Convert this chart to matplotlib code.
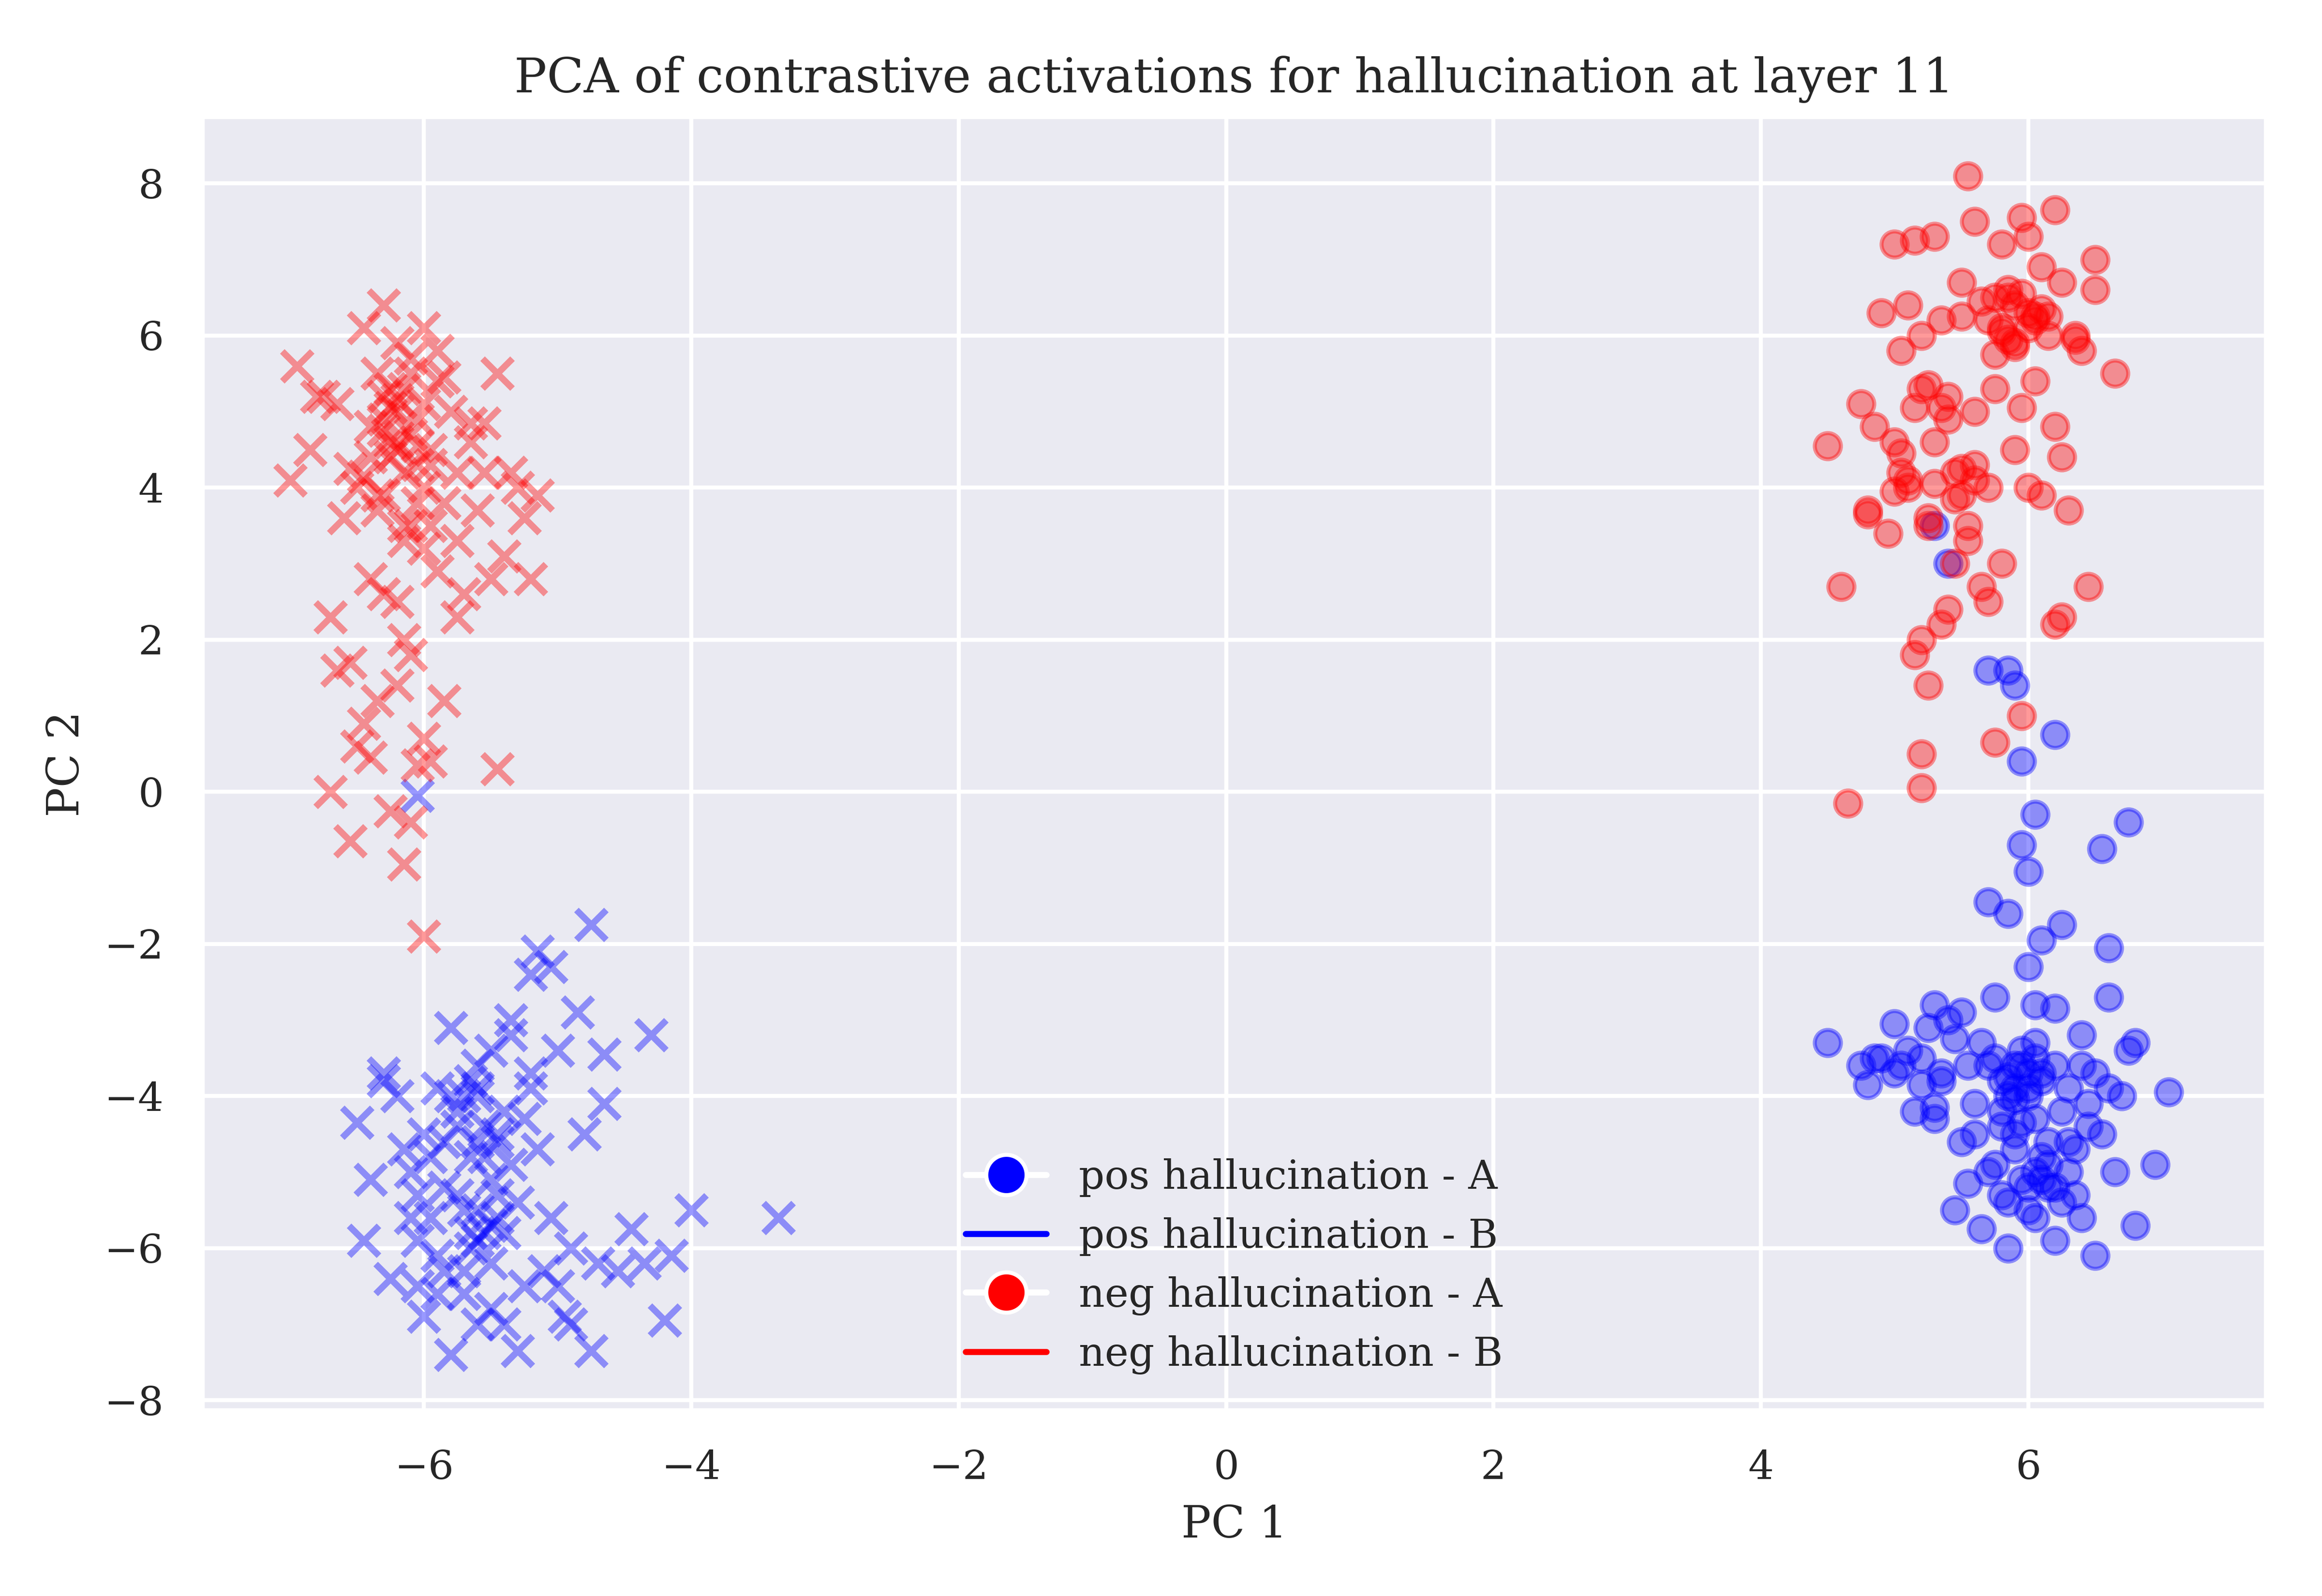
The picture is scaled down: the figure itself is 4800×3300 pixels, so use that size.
import matplotlib
matplotlib.use("Agg")
import matplotlib.pyplot as plt
import seaborn as sns
from matplotlib.lines import Line2D

# pos hallucination - A (blue circles)
pos_a_x = [4.5, 4.75, 4.8, 4.9, 5.0, 5.05, 5.1, 5.15, 5.2, 5.25, 5.3, 5.3, 5.35, 5.4, 5.45, 5.5, 5.5,
           5.55, 5.6, 5.65, 5.7, 5.7, 5.75, 5.8, 5.8, 5.85, 5.85, 5.9, 5.9, 5.95, 6.0, 6.0, 6.05, 6.05,
           6.1, 6.1, 6.15, 6.2, 6.2, 6.25, 6.3, 6.3, 6.35, 6.4, 6.4, 6.45, 6.5, 6.5, 6.55, 6.6, 6.65,
           6.7, 6.75, 6.8, 6.8, 6.95, 7.05, 5.35, 5.6, 5.9, 6.1, 6.25, 5.75, 6.35, 6.0, 5.65, 5.95,
           6.15, 6.45, 5.45, 5.8, 6.05, 6.3, 5.55, 6.4, 5.2, 4.85, 5.0, 5.3, 6.2, 6.6, 5.7, 6.0,
           5.85, 5.9, 5.95, 6.0, 6.05, 5.8, 5.9, 6.0, 6.1, 5.75, 5.85, 6.15, 6.05, 5.95, 6.2,
           5.4, 5.3, 5.7, 5.85, 5.9, 6.2, 5.95, 6.05, 6.75, 5.95, 6.55, 6.0, 5.85, 6.1, 6.05, 6.6, 6.25]
pos_a_y = [-3.3, -3.6, -3.85, -3.5, -3.05, -3.6, -3.4, -4.2, -3.5, -3.1, -2.8, -4.3, -3.7, -3.0, -5.5,
           -4.6, -2.9, -3.6, -4.1, -3.3, -5.0, -3.6, -2.7, -3.8, -5.3, -4.0, -6.0, -3.6, -4.7, -5.1,
           -3.7, -5.5, -4.3, -3.3, -3.8, -5.1, -4.6, -3.6, -5.9, -4.2, -3.9, -5.0, -4.7, -3.6, -5.6,
           -4.4, -3.7, -6.1, -4.5, -3.9, -5.0, -4.0, -3.4, -5.7, -3.3, -4.9, -3.95, -3.8, -4.5,
           -4.05, -4.8, -5.4, -4.9, -5.3, -3.9, -5.75, -4.35, -5.2, -4.1, -3.25, -4.4, -3.5,
           -4.6, -5.15, -3.2, -3.85, -3.5, -3.7, -4.15, -2.85, -2.7, -1.45, -2.3,
           -3.75, -3.9, -3.6, -5.2, -5.0, -4.2, -4.5, -4.0, -3.7, -3.5, -5.4, -4.9, -5.6, -3.4, -5.2,
           3.0, 3.5, 1.6, 1.6, 1.4, 0.75, 0.4, -0.3, -0.4, -0.7, -0.75, -1.05, -1.6, -1.95, -2.8, -2.05, -1.75]

# neg hallucination - A (red circles)
neg_a_x = [4.5, 4.6, 4.75, 4.8, 4.85, 4.9, 4.95, 5.0, 5.0, 5.05, 5.1, 5.1, 5.15, 5.2, 5.2, 5.25, 5.3,
           5.3, 5.35, 5.4, 5.4, 5.45, 5.5, 5.5, 5.55, 5.6, 5.6, 5.65, 5.7, 5.7, 5.75, 5.8, 5.8, 5.85,
           5.9, 5.9, 5.95, 6.0, 6.0, 6.05, 6.1, 6.1, 6.15, 6.2, 6.2, 6.25, 6.3, 6.35, 6.4, 6.45, 6.5,
           6.65, 5.55, 5.15, 5.25, 5.35, 5.45, 5.65, 5.75, 5.95, 6.05, 6.25, 5.05, 5.3, 5.6, 5.9,
           6.15, 6.35, 5.5, 5.85, 6.0, 5.2, 5.4, 5.6, 5.8, 5.0, 5.1, 6.2, 6.25, 6.5, 5.25, 5.45,
           5.7, 5.55, 5.8, 5.85, 5.9, 6.0, 6.05, 6.1, 5.75, 5.95, 4.8, 5.05, 5.25, 5.5,
           4.65, 5.2, 5.2, 5.75, 5.95, 5.35, 5.15]
neg_a_y = [4.55, 2.7, 5.1, 3.7, 4.8, 6.3, 3.4, 4.6, 7.2, 5.8, 4.0, 6.4, 7.25, 2.0, 5.3, 1.4, 4.6, 7.3,
           6.2, 2.4, 5.2, 3.85, 6.7, 4.25, 3.5, 5.0, 7.5, 2.7, 4.0, 6.2, 5.3, 7.2, 3.0, 6.6, 4.5, 5.9,
           7.55, 4.0, 6.3, 5.4, 6.9, 3.9, 6.0, 4.8, 7.65, 6.7, 3.7, 6.0, 5.8, 2.7, 7.0, 5.5, 8.1,
           5.05, 3.6, 5.05, 4.2, 6.45, 5.75, 5.05, 6.2, 4.4, 4.2, 4.05, 4.1, 5.85, 6.25, 5.95, 6.25,
           6.5, 7.3, 6.0, 4.9, 4.3, 6.1, 3.95, 4.1, 2.2, 2.3, 6.6, 3.5, 3.0, 2.5, 3.3,
           6.05, 5.95, 6.4, 6.1, 6.25, 6.35, 6.5, 6.55, 3.65, 4.45, 5.35, 3.9,
           -0.15, 0.05, 0.5, 0.65, 1.0, 2.2, 1.8]

# pos hallucination - B (blue crosses)
pos_b_x = [-6.5, -6.45, -6.3, -6.25, -6.2, -6.1, -6.05, -6.0, -6.0, -5.95, -5.9, -5.9, -5.85, -5.8,
           -5.8, -5.75, -5.7, -5.7, -5.65, -5.6, -5.6, -5.55, -5.5, -5.5, -5.45, -5.4, -5.4, -5.35,
           -5.3, -5.25, -5.2, -5.15, -5.1, -5.05, -5.0, -4.95, -4.9, -4.8, -4.75, -4.7, -4.65, -4.55,
           -4.45, -4.3, -4.2, -4.15, -4.0, -3.35, -5.15, -5.2, -4.75, -4.65, -4.35, -5.75, -5.6,
           -5.45, -5.65, -5.55, -5.85, -5.95, -6.1, -5.35, -5.5, -5.25, -5.7, -5.6, -6.3, -6.4,
           -6.05, -5.8, -5.45, -5.3, -5.05, -4.85, -5.6, -5.55, -5.65, -5.5, -5.7, -5.6, -5.45,
           -5.75, -5.4, -5.85, -5.6, -5.5, -5.65, -5.35, -6.05, -5.9, -5.2, -5.0, -4.9, -6.15,
           -6.05]
pos_b_y = [-4.35, -5.9, -3.8, -6.4, -4.0, -5.0, -6.5, -4.5, -6.9, -5.6, -3.9, -6.1, -4.6, -3.1,
           -7.4, -5.3, -4.0, -6.6, -5.8, -3.6, -7.0, -4.8, -3.4, -6.2, -5.6, -4.2, -7.0, -3.2,
           -5.4, -6.5, -3.9, -4.7, -6.3, -5.6, -3.4, -6.9, -7.0, -4.5, -7.35, -6.2, -3.45, -6.3,
           -5.75, -3.2, -6.95, -6.1, -5.5, -5.6, -2.1, -2.4, -1.75, -4.1, -6.2, -4.4, -5.5,
           -4.6, -3.8, -5.8, -5.2, -4.8, -5.6, -3.0, -6.8, -4.3, -6.3, -4.0, -3.7, -5.1,
           -5.9, -4.0, -5.3, -7.35, -2.3, -2.9, -4.6, -4.4, -4.8, -5.7, -5.5, -5.9, -4.5,
           -4.2, -5.8, -6.3, -3.9, -5.1, -6.0, -4.9, -5.3, -6.6, -3.7, -6.5, -6.0, -4.7,
           -0.05]

# neg hallucination - B (red crosses)
neg_b_x = [-7.0, -6.95, -6.85, -6.8, -6.7, -6.65, -6.6, -6.55, -6.5, -6.45, -6.4, -6.4, -6.35, -6.3,
           -6.3, -6.25, -6.2, -6.2, -6.15, -6.1, -6.1, -6.05, -6.0, -6.0, -5.95, -5.9, -5.9, -5.85,
           -5.8, -5.75, -5.7, -5.65, -5.6, -5.55, -5.5, -5.45, -5.4, -5.35, -5.3, -5.25, -5.2, -5.15,
           -6.65, -6.5, -6.35, -6.1, -6.05, -5.95, -6.45, -6.2, -6.0, -6.55, -6.25, -6.15, -6.4,
           -6.7, -6.75, -6.3, -5.85, -5.75, -6.05, -6.2, -6.25, -5.95, -5.65, -6.4, -6.15,
           -5.45, -6.1, -5.9, -6.15, -5.55, -5.75, -6.3, -6.0, -6.35, -6.2, -6.1, -6.15, -6.25,
           -6.0, -6.3, -6.05, -6.2, -6.1, -5.95, -6.35, -6.25, -6.0, -6.15, -6.45, -6.55, -5.85,
           -6.05, -6.2, -6.3]
neg_b_y = [4.1, 5.6, 4.5, 5.2, 2.3, 5.1, 3.6, 1.7, 4.0, 6.1, 4.8, 2.8, 5.5, 3.9, 6.4, 4.6, 5.9, 2.5,
           4.2, 5.7, 3.5, 4.9, 6.1, 3.2, 4.5, 5.4, 2.9, 3.8, 5.0, 4.2, 2.6, 4.6, 3.7, 4.2, 2.8, 5.5,
           3.1, 4.2, 4.0, 3.6, 2.8, 3.9, 1.6, 0.6, 1.2, 1.8, 0.35, 0.4, 0.9, 1.4, 0.7, -0.65, -0.25,
           -0.95, 0.45, 0.0, 5.2, 5.2, 1.2, 2.3, 4.3, 4.5, 5.3, 3.5, 4.85, 4.4, 3.3,
           0.3, -0.4, 5.8, 2.0, 4.85, 3.3, 2.6, -1.9, 3.9, 5.0, 4.7, 5.3, 4.4, 5.1, 4.9, 3.8,
           4.6, 5.5, 4.3, 3.7, 5.05, 4.0, 3.5, 4.15, 4.25, 5.45, 4.55, 5.15, 4.75]

sns.set_theme(style="darkgrid")
plt.rcParams["font.family"] = ["DejaVu Serif"]

fig = plt.figure(figsize=(8, 5.5), dpi=600)
ax = fig.add_axes([0.087, 0.116, 0.889, 0.811])

ax.scatter(pos_a_x, pos_a_y, c="blue", marker="o", s=42, alpha=0.4)
ax.scatter(pos_b_x, pos_b_y, c="blue", marker="x", s=55, alpha=0.4, linewidths=1.6)
ax.scatter(neg_a_x, neg_a_y, c="red", marker="o", s=42, alpha=0.4)
ax.scatter(neg_b_x, neg_b_y, c="red", marker="x", s=55, alpha=0.4, linewidths=1.6)

ax.set_xlim(-7.66, 7.78)
ax.set_ylim(-8.14, 8.88)
ax.set_yticks([-8, -6, -4, -2, 0, 2, 4, 6, 8])
ax.tick_params(labelsize=10)
ax.set_xlabel("PC 1", fontsize=11)
ax.set_ylabel("PC 2", fontsize=11)
ax.set_title("PCA of contrastive activations for hallucination at layer 11", fontsize=12)

handles = [
    Line2D([0], [0], marker="o", color="w", markerfacecolor="blue", markersize=10, label="pos hallucination - A"),
    Line2D([0], [0], color="blue", label="pos hallucination - B"),
    Line2D([0], [0], marker="o", color="w", markerfacecolor="red", markersize=10, label="neg hallucination - A"),
    Line2D([0], [0], color="red", label="neg hallucination - B"),
]
ax.legend(handles=handles, loc="lower center", frameon=False, fontsize=10)

fig.savefig("out.png", dpi=600)
